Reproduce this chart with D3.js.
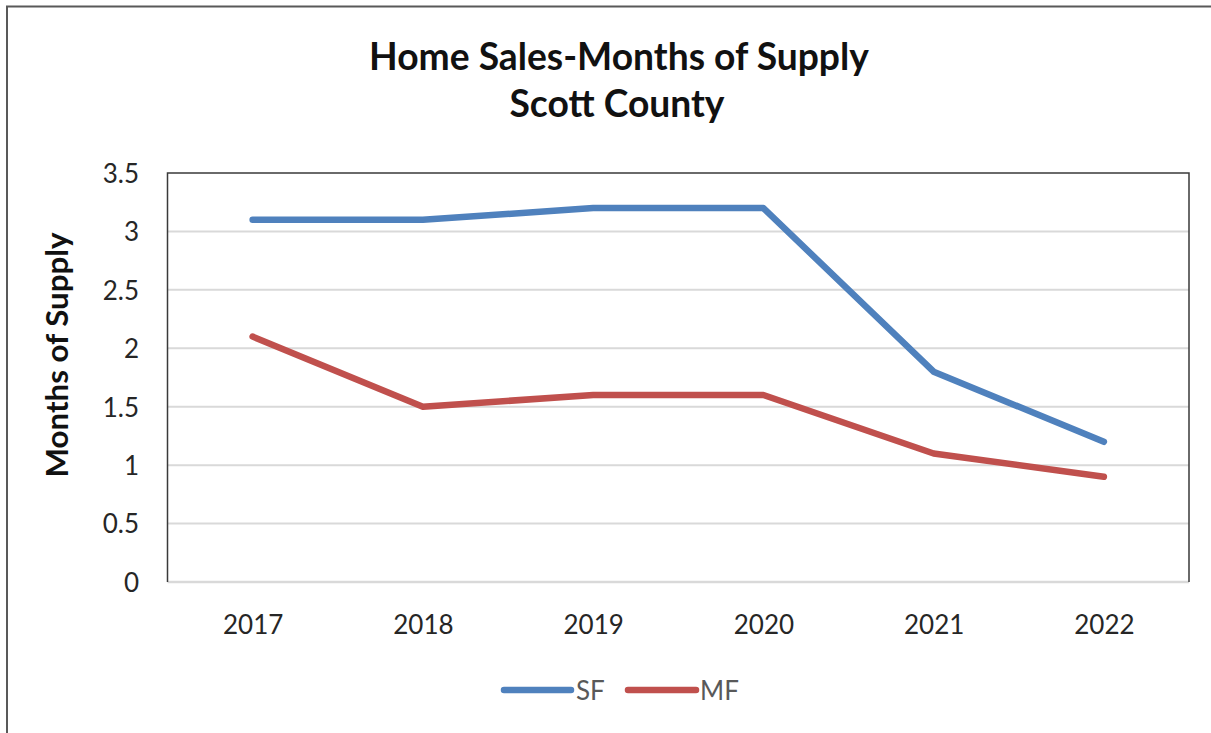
<!DOCTYPE html>
<html><head><meta charset="utf-8">
<script src="https://cdn.jsdelivr.net/npm/d3@7"></script>
<style>html,body{margin:0;padding:0;background:#fff;overflow:hidden}svg{display:block}text{font-family:Lato,"Open Sans",sans-serif}</style>
</head><body>
<script>
const years = ["2017","2018","2019","2020","2021","2022"];
const sfValues = [3.1, 3.1, 3.2, 3.2, 1.8, 1.2];
const mfValues = [2.1, 1.5, 1.6, 1.6, 1.1, 0.9];
const yTicks = [0, 0.5, 1, 1.5, 2, 2.5, 3, 3.5];
const seriesNames = ["SF", "MF"];
const titleLines = ["Home Sales-Months of Supply", "Scott County"];
const yAxisTitle = "Months of Supply";

const W = 1211, H = 733;
const plot = {left: 167.5, right: 1189, top: 173, bottom: 582};
const colors = ["#4F81BD", "#C0504D"];
const series = [sfValues, mfValues];

const svg = d3.select("body").append("svg").attr("width", W).attr("height", H);

// outer chart border
svg.append("rect").attr("x", 7).attr("y", 6.5).attr("width", W).attr("height", H)
  .attr("fill", "none").attr("stroke", "#595959").attr("stroke-width", 2);

const x = d3.scalePoint().domain(years).range([plot.left, plot.right]).padding(0.5);
const y = d3.scaleLinear().domain([0, 3.5]).range([plot.bottom, plot.top]);

// gridlines
svg.append("g").selectAll("line").data(yTicks.filter(t => t > 0 && t < 3.5)).join("line")
  .attr("x1", plot.left).attr("x2", plot.right)
  .attr("y1", d => y(d)).attr("y2", d => y(d))
  .attr("stroke", "#d9d9d9").attr("stroke-width", 2);

// bottom axis (light)
svg.append("line").attr("x1", plot.left).attr("x2", plot.right)
  .attr("y1", y(0)).attr("y2", y(0)).attr("stroke", "#d9d9d9").attr("stroke-width", 2.5);

// plot border: left, top, right
svg.append("path")
  .attr("d", `M${plot.left},${y(0)}V${y(3.5)}H${plot.right}V${y(0)}`)
  .attr("fill", "none").attr("stroke", "#3a3a3a").attr("stroke-width", 1.5);

// y tick labels
const yAxis = d3.axisLeft(y).tickValues(yTicks).tickSize(0).tickPadding(0).tickFormat(d => String(d));
const ya = svg.append("g").attr("transform", `translate(139,0)`).call(yAxis);
ya.select(".domain").remove();
ya.selectAll("text").attr("font-size", 26).attr("fill", "#262626")
  .attr("font-family", "Lato,'Open Sans',sans-serif").attr("dy", "0.36em");

// x tick labels
const xAxis = d3.axisBottom(x).tickSize(0).tickPadding(0);
const xa = svg.append("g").attr("transform", `translate(0,${plot.bottom})`).call(xAxis);
xa.select(".domain").remove();
xa.selectAll("text").attr("font-size", 26).attr("fill", "#262626")
  .attr("font-family", "Lato,'Open Sans',sans-serif").attr("y", 52).attr("dy", 0);

// lines
const line = d3.line().x((d, i) => x(years[i])).y(d => y(d));
svg.append("g").selectAll("path").data(series).join("path")
  .attr("d", d => line(d)).attr("fill", "none")
  .attr("stroke", (d, i) => colors[i]).attr("stroke-width", 6.5)
  .attr("stroke-linejoin", "round").attr("stroke-linecap", "round");

// title
function fit(sel, target) {
  const w = sel.node().getComputedTextLength();
  const s = parseFloat(sel.attr("font-size"));
  sel.attr("font-size", s * target / w);
}
const t1 = svg.append("text").attr("x", 619).attr("y", 70).attr("text-anchor", "middle")
  .attr("font-weight", "bold").attr("font-size", 32).attr("fill", "#111").text(titleLines[0]);
fit(t1, 500);
const t2 = svg.append("text").attr("x", 617).attr("y", 117).attr("text-anchor", "middle")
  .attr("font-weight", "bold").attr("font-size", 32).attr("fill", "#111").text(titleLines[1]);
t2.attr("font-size", t1.attr("font-size"));

// y axis title
const yt = svg.append("text").attr("transform", `translate(68,355) rotate(-90)`)
  .attr("text-anchor", "middle").attr("font-weight", "bold").attr("font-size", 26)
  .attr("fill", "#111").text(yAxisTitle);
fit(yt, 245);

// legend
const legendItems = [{x1: 504, x2: 571, tx: 576}, {x1: 628, x2: 696, tx: 700}];
const lg = svg.append("g");
seriesNames.forEach((name, i) => {
  lg.append("line").attr("x1", legendItems[i].x1).attr("x2", legendItems[i].x2)
    .attr("y1", 690).attr("y2", 690).attr("stroke", colors[i]).attr("stroke-width", 6.5)
    .attr("stroke-linecap", "round");
  lg.append("text").attr("x", legendItems[i].tx).attr("y", 700).attr("font-size", 26)
    .attr("fill", "#595959").text(name);
});
</script>
</body></html>
